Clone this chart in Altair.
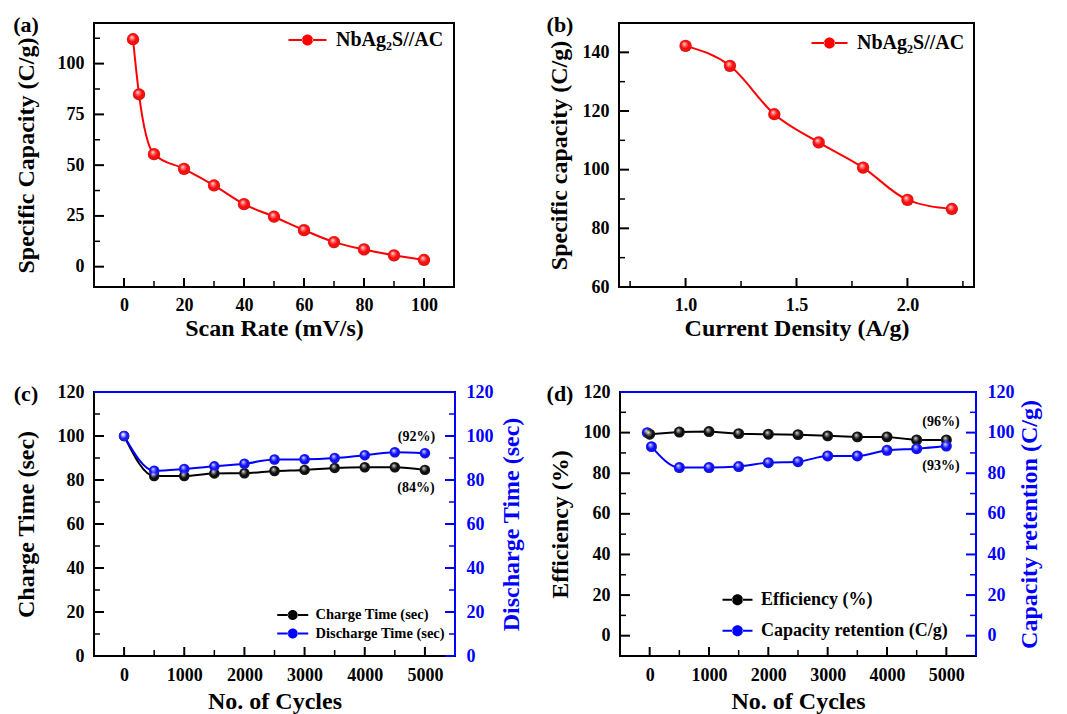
import altair as alt
import pandas as pd

FONT = "Liberation Serif"
RED = "#ff0000"
BLUE = "#0000ff"
BLACK = "#000000"

# ---------------- data ----------------
# (a)
a_rate = [3, 5, 10, 20, 30, 40, 50, 60, 70, 80, 90, 100]
a_cap = [112.0, 84.9, 55.4, 48.2, 40.0, 30.8, 24.6, 18.0, 12.1, 8.5, 5.6, 3.3]
a_xticks = [0, 20, 40, 60, 80, 100]
a_xminor = [10, 30, 50, 70, 90]
a_yticks = [0, 25, 50, 75, 100]
a_yminor = [12.5, 37.5, 62.5, 87.5, 112.5]

# (b)
b_cd = [1.0, 1.2, 1.4, 1.6, 1.8, 2.0, 2.2]
b_cap = [142.2, 135.4, 118.9, 109.3, 100.7, 89.7, 86.6]
b_xticks = [1.0, 1.5, 2.0]
b_xminor = [0.75, 1.25, 1.75, 2.25]
b_yticks = [60, 80, 100, 120, 140]
b_yminor = [70, 90, 110, 130]

# (c)
c_cycles = [0, 500, 1000, 1500, 2000, 2500, 3000, 3500, 4000, 4500, 5000]
c_charge = [100.0, 81.8, 81.8, 83.0, 83.1, 84.1, 84.6, 85.5, 85.8, 85.8, 84.6]
c_discharge = [100.0, 84.2, 85.0, 86.2, 87.4, 89.3, 89.4, 90.0, 91.3, 92.6, 92.2]
c_notes_x = [4860, 4850]
c_notes_y = [99.5, 76.5]
c_notes = ["(92%)", "(84%)"]

# (d)
d_cycles = [0, 500, 1000, 1500, 2000, 2500, 3000, 3500, 4000, 4500, 5000]
d_eff = [99.2, 100.3, 100.5, 99.5, 99.2, 99.0, 98.4, 97.9, 97.9, 96.4, 96.4]
d_ret_cycles = [30, 500, 1000, 1500, 2000, 2500, 3000, 3500, 4000, 4500, 5000]
d_ret = [93.1, 82.8, 82.8, 83.3, 85.2, 85.7, 88.5, 88.5, 91.3, 92.1, 93.4]
d_ret_first_cycle = [-40]
d_ret_first = [100.0]
d_notes_x = [4910, 4910]
d_notes_y = [105.0, 83.5]
d_notes = ["(96%)", "(93%)"]

cd_xticks = [0, 1000, 2000, 3000, 4000, 5000]
cd_xminor = [500, 1500, 2500, 3500, 4500]
cd_yticks = [0, 20, 40, 60, 80, 100, 120]
cd_yminor = [10, 30, 50, 70, 90, 110]

GRAD = {
    "gradient": "radial",
    "x1": 0.38, "y1": 0.32, "r1": 0.0,
    "x2": 0.5, "y2": 0.5, "r2": 0.55,
    "stops": [
        {"offset": 0.0, "color": "rgba(255,255,255,0.95)"},
        {"offset": 0.25, "color": "rgba(255,255,255,0.45)"},
        {"offset": 0.6, "color": "rgba(255,255,255,0)"},
        {"offset": 1.0, "color": "rgba(0,0,0,0.35)"},
    ],
}


def sc(dom):
    return alt.Scale(domain=dom, nice=False, zero=False)


def legend_path(d, w, t=2.0):
    """Filled path: circle of diameter d px with bar 'wings', total width w px."""
    u = d / 2.0
    e = (w / 2.0) / u
    h = (t / 2.0) / u
    wing = (f"M{-e:.3f},{-h:.3f}L-0.9,{-h:.3f}L-0.9,{h:.3f}L{-e:.3f},{h:.3f}Z"
            f"M0.9,{-h:.3f}L{e:.3f},{-h:.3f}L{e:.3f},{h:.3f}L0.9,{h:.3f}Z")
    circ = "M-1,0A1,1,0,1,0,1,0A1,1,0,1,0,-1,0Z"
    return wing + circ


def one():
    return pd.DataFrame({"k": [0]})


class Panel:
    """Holds the scales/axes of one panel so every layer uses identical encodings."""

    def __init__(self, W, H, xdom, ydom, xax, yax, indep_y=False):
        self.W, self.H = W, H
        self.xdom, self.ydom = xdom, ydom
        self.xax, self.yax = xax, yax
        self.indep_y = indep_y

    def X(self, field="x"):
        return alt.X(f"{field}:Q", scale=sc(self.xdom), axis=self.xax)

    def Y(self, field="y", axis="auto"):
        if axis == "auto":
            axis = None if self.indep_y else self.yax
        return alt.Y(f"{field}:Q", scale=sc(self.ydom), axis=axis)

    def yticks(self, vals, length, color, width, side="left"):
        df = pd.DataFrame({"y": vals})
        if side == "left":
            xa, xb = alt.value(0), alt.value(length)
        else:
            xa, xb = alt.value(self.W), alt.value(self.W - length)
        return alt.Chart(df).mark_rule(color=color, strokeWidth=width).encode(
            y=self.Y(), x=xa, x2=xb)

    def xticks(self, vals, length, width):
        df = pd.DataFrame({"x": vals})
        return alt.Chart(df).mark_rule(color=BLACK, strokeWidth=width).encode(
            x=self.X(), y=alt.value(self.H), y2=alt.value(self.H - length))

    def points(self, df, size, names, colors, leg):
        base = alt.Chart(df).mark_point(shape="circle", filled=True, size=size, opacity=1,
                                        strokeWidth=0).encode(
            x=self.X(), y=self.Y(),
            color=alt.Color("s:N", scale=alt.Scale(domain=names, range=colors), legend=leg),
        )
        hi = alt.Chart(df).mark_point(shape="circle", filled=True, size=size, opacity=1,
                                      fill=GRAD, strokeWidth=0).encode(x=self.X(), y=self.Y())
        return base, hi

    def notes(self, xs, ys, ts):
        df = pd.DataFrame({"x": xs, "y": ys, "t": ts})
        return alt.Chart(df).mark_text(font=FONT, fontSize=14, fontWeight="bold",
                                       color=BLACK, align="center", baseline="middle").encode(
            x=self.X(), y=self.Y(), text="t:N")

    def blue_frame(self):
        top = alt.Chart(one()).mark_rule(color=BLUE, strokeWidth=2).encode(
            x=alt.value(0), x2=alt.value(self.W), y=alt.value(0))
        right = alt.Chart(one()).mark_rule(color=BLUE, strokeWidth=2).encode(
            x=alt.value(self.W), y=alt.value(0), y2=alt.value(self.H))
        return top, right


def panel_label(text, dx):
    return alt.Chart(one()).mark_text(
        text=text, font=FONT, fontSize=22, fontWeight="bold", align="center",
        baseline="middle", color=BLACK).encode(x=alt.value(dx), y=alt.value(2))


def make_legend(sym_left, center_y, d, w, fs, rowpad, gap=5):
    top = center_y - max(d, fs) / 2.0
    return alt.Legend(title=None, orient="none", legendX=sym_left + (w - d) / 2.0,
                      legendY=top,
                      symbolType=legend_path(d, w), symbolSize=d * d, symbolStrokeWidth=0,
                      labelFont=FONT, labelFontSize=fs, labelFontWeight="bold",
                      labelColor=BLACK, padding=0, rowPadding=rowpad,
                      labelOffset=(w - d) / 2.0 + gap, labelLimit=400,
                      symbolOpacity=1)


def xaxis(values, title, fmt=None, lpad=9, tpad=2):
    kw = dict(values=values, title=title, labelPadding=lpad, titleFontSize=24,
              titlePadding=tpad)
    if fmt:
        kw["format"] = fmt
    return alt.Axis(**kw)


def yaxis_left(values, title, tpad):
    return alt.Axis(values=values, title=title, labelPadding=10, titleFontSize=24,
                    titlePadding=tpad)


def yaxis_right(values, title, tpad):
    return alt.Axis(values=values, title=title, orient="right", labelPadding=11,
                    titleFontSize=24, titlePadding=tpad, labelColor=BLUE,
                    titleColor=BLUE, titleAngle=270, titleBaseline="top")


# ---------------- panel (a) ----------------
pa = Panel(360, 264, [-10, 110], [-10, 120],
           xaxis(a_xticks, "Scan Rate (mV/s)"),
           yaxis_left(a_yticks, "Specific Capacity (C/g)", 18.5))
a_name = "NbAg\u2082S//AC"
a_df = pd.DataFrame({"x": a_rate, "y": a_cap, "s": a_name})
a_line = alt.Chart(a_df).mark_line(color=RED, strokeWidth=2, interpolate="monotone").encode(
    x=pa.X(), y=pa.Y())
a_pts, a_hi = pa.points(a_df, 150, [a_name], [RED], make_legend(190, 17, 11, 38, 20, 0))
chart_a = alt.layer(
    a_line, a_pts, a_hi,
    pa.yticks(a_yticks, 10, BLACK, 2),
    pa.yticks(a_yminor, 6, BLACK, 1.5),
    pa.xticks(a_xticks, 9, 2),
    pa.xticks(a_xminor, 6, 1.5),
    panel_label("(a)", -68),
).properties(width=pa.W, height=pa.H)

# ---------------- panel (b) ----------------
pb = Panel(355, 264, [0.7, 2.3], [60, 150],
           xaxis(b_xticks, "Current Density (A/g)", ".1f"),
           yaxis_left(b_yticks, "Specific capacity (C/g)", 10.5))
b_df = pd.DataFrame({"x": b_cd, "y": b_cap, "s": a_name})
b_line = alt.Chart(b_df).mark_line(color=RED, strokeWidth=2, interpolate="monotone").encode(
    x=pb.X(), y=pb.Y())
b_pts, b_hi = pb.points(b_df, 150, [a_name], [RED], make_legend(188, 20, 11, 36, 20, 0))
chart_b = alt.layer(
    b_line, b_pts, b_hi,
    pb.yticks(b_yticks, 10, BLACK, 2),
    pb.yticks(b_yminor, 6, BLACK, 1.5),
    pb.xticks(b_xticks, 9, 2),
    pb.xticks(b_xminor, 6, 1.5),
    panel_label("(b)", -59),
).properties(width=pb.W, height=pb.H)

# ---------------- panel (c) ----------------
pc = Panel(361, 264, [-500, 5500], [0, 120],
           xaxis(cd_xticks, "No. of Cycles", "d", 10, 5), None, indep_y=True)
c_names = ["Charge Time (sec)", "Discharge Time (sec)"]
c_df1 = pd.DataFrame({"x": c_cycles, "y": c_charge, "s": c_names[0]})
c_df2 = pd.DataFrame({"x": c_cycles, "y": c_discharge, "s": c_names[1]})
c_line1 = alt.Chart(c_df1).mark_line(color=BLACK, strokeWidth=2, interpolate="monotone").encode(
    x=pc.X(), y=pc.Y(axis=yaxis_left(cd_yticks, "Charge Time (sec)", 18.5)))
c_line2 = alt.Chart(c_df2).mark_line(color=BLUE, strokeWidth=2, interpolate="monotone").encode(
    x=pc.X(), y=pc.Y(axis=yaxis_right(cd_yticks, "Discharge Time (sec)", 6.5)))
c_pts, c_hi = pc.points(pd.concat([c_df1, c_df2]), 110, c_names, [BLACK, BLUE],
                        make_legend(181, 223, 10, 31, 14.5, 3.5))
c_top, c_right = pc.blue_frame()
chart_c = alt.layer(
    c_line1, c_line2, c_pts, c_hi,
    pc.notes(c_notes_x, c_notes_y, c_notes),
    pc.yticks(cd_yticks, 10, BLACK, 2),
    pc.yticks(cd_yminor, 6, BLACK, 1.5),
    pc.yticks(cd_yticks, 10, BLUE, 2, "right"),
    pc.yticks(cd_yminor, 6, BLUE, 1.5, "right"),
    pc.xticks(cd_xticks, 9, 2),
    pc.xticks(cd_xminor, 6, 1.5),
    c_top, c_right,
    panel_label("(c)", -68),
).resolve_scale(y="independent").properties(width=pc.W, height=pc.H)

# ---------------- panel (d) ----------------
pd_ = Panel(356, 264, [-500, 5500], [-10, 120],
            xaxis(cd_xticks, "No. of Cycles", "d", 10, 5), None, indep_y=True)
d_names = ["Efficiency (%)", "Capacity retention (C/g)"]
d_df1 = pd.DataFrame({"x": d_cycles, "y": d_eff, "s": d_names[0]})
d_df2 = pd.DataFrame({"x": d_ret_cycles, "y": d_ret, "s": d_names[1]})
d_df3 = pd.DataFrame({"x": d_ret_first_cycle, "y": d_ret_first, "s": d_names[1]})
d_line1 = alt.Chart(d_df1).mark_line(color=BLACK, strokeWidth=2).encode(
    x=pd_.X(), y=pd_.Y(axis=yaxis_left(cd_yticks, "Efficiency (%)", 10.5)))
d_line2 = alt.Chart(d_df2).mark_line(color=BLUE, strokeWidth=2, interpolate="monotone").encode(
    x=pd_.X(), y=pd_.Y(axis=yaxis_right(cd_yticks, "Capacity retention (C/g)", 3.5)))
d_pts, d_hi = pd_.points(pd.concat([d_df3, d_df1, d_df2]), 120, d_names, [BLACK, BLUE],
                         make_legend(99, 207.7, 11, 30, 18, 13))
d_top, d_right = pd_.blue_frame()
chart_d = alt.layer(
    d_line1, d_line2, d_pts, d_hi,
    pd_.notes(d_notes_x, d_notes_y, d_notes),
    pd_.yticks(cd_yticks, 10, BLACK, 2),
    pd_.yticks(cd_yminor, 6, BLACK, 1.5),
    pd_.yticks(cd_yticks, 10, BLUE, 2, "right"),
    pd_.yticks(cd_yminor, 6, BLUE, 1.5, "right"),
    pd_.xticks(cd_xticks, 9, 2),
    pd_.xticks(cd_xminor, 6, 1.5),
    d_top, d_right,
    panel_label("(d)", -60),
).resolve_scale(y="independent").properties(width=pd_.W, height=pd_.H)

IND = dict(color="independent")
row1 = alt.hconcat(chart_a, chart_b, spacing=90).resolve_scale(**IND).resolve_legend(**IND)
row2 = alt.hconcat(chart_c, chart_d, spacing=20).resolve_scale(**IND).resolve_legend(**IND)

chart = alt.vconcat(row1, row2, spacing=41).resolve_scale(**IND).resolve_legend(**IND).properties(
    padding={"left": 4, "top": 5, "right": 0, "bottom": 0}
).configure(font=FONT).configure_view(
    stroke=BLACK, strokeWidth=2
).configure_axis(
    ticks=False, domain=False, grid=False, labelFont=FONT, labelFontSize=18,
    labelFontWeight="bold", labelColor=BLACK, titleFont=FONT, titleFontWeight="bold",
    titleColor=BLACK, labelFlush=False, labelOverlap=False,
).configure_legend(symbolOpacity=1)

chart.save("out.html", embed_options={"renderer": "svg", "actions": False})
